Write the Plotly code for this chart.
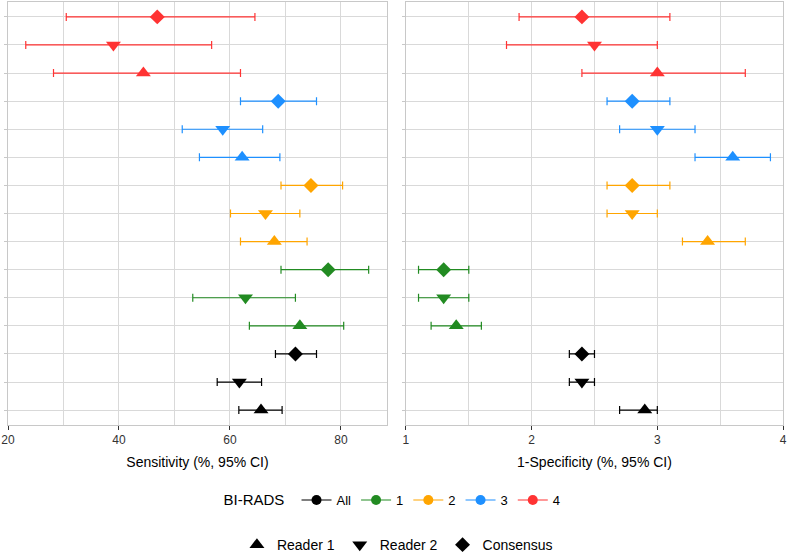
import plotly.graph_objects as go

groups = ["All", "1", "2", "3", "4"]
group_colors = ["#000000", "#228B22", "#FFA500", "#1E90FF", "#FF3333"]
readers = ["Reader 1", "Reader 2", "Consensus"]
reader_symbols = ["triangle-up", "triangle-down", "diamond"]
reader_sizes = [13, 13, 11.5]

# Sensitivity (%), per group: [Reader 1, Reader 2, Consensus]
sens_est = {"All": [65.6, 61.7, 71.8], "1": [72.6, 62.8, 77.7], "2": [68.0, 66.4, 74.6],
            "3": [62.2, 58.7, 68.7], "4": [44.4, 39.0, 46.9]}
sens_lo = {"All": [61.6, 57.7, 68.2], "1": [63.5, 53.3, 69.2], "2": [61.9, 60.1, 69.2],
           "3": [54.5, 51.4, 61.9], "4": [28.2, 23.2, 30.5]}
sens_hi = {"All": [69.4, 65.7, 75.6], "1": [80.5, 71.8, 85.0], "2": [73.9, 72.6, 80.3],
           "3": [69.0, 65.9, 75.6], "4": [61.9, 56.7, 64.5]}

# 1-Specificity (%), per group: [Reader 1, Reader 2, Consensus]
spec_est = {"All": [2.9, 2.4, 2.4], "1": [1.4, 1.3, 1.3], "2": [3.4, 2.8, 2.8],
            "3": [3.6, 3.0, 2.8], "4": [3.0, 2.5, 2.4]}
spec_lo = {"All": [2.7, 2.3, 2.3], "1": [1.2, 1.1, 1.1], "2": [3.2, 2.6, 2.6],
           "3": [3.3, 2.7, 2.6], "4": [2.4, 1.8, 1.9]}
spec_hi = {"All": [3.0, 2.5, 2.5], "1": [1.6, 1.5, 1.5], "2": [3.7, 3.0, 3.1],
           "3": [3.9, 3.3, 3.1], "4": [3.7, 3.0, 3.1]}

sens_ticks = [20, 40, 60, 80]
spec_ticks = [1, 2, 3, 4]

FONT = "Arial, Liberation Sans, sans-serif"
fig = go.Figure()

for gi, g in enumerate(groups):
    rows = [gi * 3 + k + 1 for k in range(3)]
    col = group_colors[gi]
    for (est, lo, hi, xa, ya) in [(sens_est, sens_lo, sens_hi, "x", "y"),
                                  (spec_est, spec_lo, spec_hi, "x2", "y2")]:
        e = est[g]
        plus = [h - v for h, v in zip(hi[g], e)]
        minus = [v - l for l, v in zip(lo[g], e)]
        fig.add_trace(go.Scatter(
            x=e, y=rows, mode="markers", xaxis=xa, yaxis=ya, showlegend=False,
            marker=dict(symbol=reader_symbols, size=reader_sizes, color=col,
                        opacity=1, line=dict(width=0)),
            error_x=dict(type="data", symmetric=False, array=plus, arrayminus=minus,
                         color=col, thickness=1.2, width=4),
        ))

# BI-RADS legend
for gi, g in enumerate(groups):
    fig.add_trace(go.Scatter(
        x=[None], y=[None], mode="lines+markers", name=g, legend="legend",
        line=dict(color=group_colors[gi], width=1.2),
        marker=dict(symbol="circle", size=10, color=group_colors[gi], opacity=1),
    ))
# Reader legend
for r, s, sz in zip(readers, reader_symbols, reader_sizes):
    fig.add_trace(go.Scatter(
        x=[None], y=[None], mode="markers", name=r, legend="legend2",
        marker=dict(symbol=s, size=sz, color="#000000", opacity=1),
    ))

grid = "#D9D9D9"
border = "#C8C8C8"
common_x = dict(showgrid=True, gridcolor=grid, gridwidth=1, zeroline=False, automargin=False,
                showline=True, linecolor=border, mirror=True, ticks="outside",
                ticklen=4, tickcolor="#333333", tickfont=dict(size=12, color="#333333", family=FONT))
common_y = dict(range=[0.47, 15.53], tickvals=list(range(1, 16)), showticklabels=False,
                showgrid=True, gridcolor=grid, gridwidth=1, zeroline=False, automargin=False,
                showline=True, linecolor=border, mirror=True, ticks="outside",
                ticklen=3, tickcolor=border)

fig.update_layout(
    width=787, height=559,
    margin=dict(l=8, r=4, t=2, b=134, autoexpand=False),
    paper_bgcolor="white", plot_bgcolor="white",
    font=dict(family=FONT, color="#000000"),
    xaxis=dict(domain=[0, 0.489], range=[20, 88.3], tickvals=sens_ticks,
               minor=dict(tickvals=[30, 50, 70], showgrid=True, gridcolor=grid, ticks=""),
               title=dict(text="Sensitivity (%, 95% CI)", font=dict(size=14, family=FONT), standoff=10),
               **common_x),
    xaxis2=dict(domain=[0.5135, 1], range=[1, 4], tickvals=spec_ticks,
                minor=dict(tickvals=[1.5, 2.5, 3.5], showgrid=True, gridcolor=grid, ticks=""),
                title=dict(text="1-Specificity (%, 95% CI)", font=dict(size=14, family=FONT), standoff=10),
                **common_x),
    yaxis=dict(anchor="x", **common_y),
    yaxis2=dict(anchor="x2", **common_y),
    legend=dict(orientation="h", xref="container", yref="container",
                x=0.5, xanchor="center", y=0.1055, yanchor="middle",
                title=dict(text="BI-RADS ", font=dict(size=15, family=FONT)),
                font=dict(size=13, family=FONT), itemwidth=30, bgcolor="rgba(0,0,0,0)"),
    legend2=dict(orientation="h", xref="container", yref="container",
                 x=0.505, xanchor="center", y=0.025, yanchor="middle",
                 font=dict(size=14, family=FONT), itemwidth=30, bgcolor="rgba(0,0,0,0)"),
)

fig.write_html("out.html", config={"displayModeBar": False},
               post_script="document.body.style.margin='0';document.body.style.overflow='hidden';")
